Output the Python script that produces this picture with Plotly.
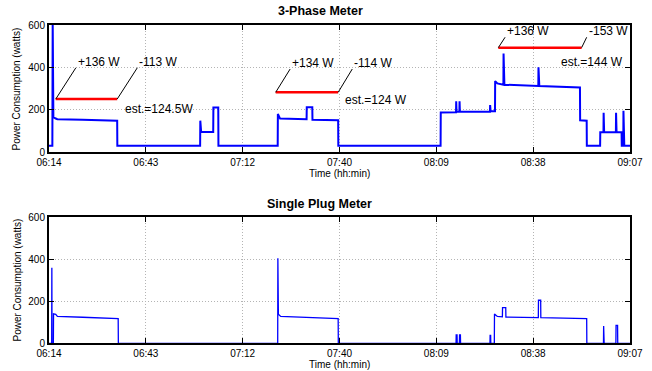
import plotly.graph_objects as go

# ---------------- data (minutes since 06:14) ----------------
tick_labels = ["06:14", "06:43", "07:12", "07:40", "08:09", "08:38", "09:07"]
x_span = 173.0

three_phase_t = [0, 1.0, 1.1, 1.3, 2.0, 2.5, 10, 20.3, 20.35,
                 45.0, 45.05, 45.3, 48.9, 48.95, 50.4, 50.45,
                 68.1, 68.15, 68.8, 76.7, 76.75, 78.4, 78.45, 86.1, 86.15,
                 116.6, 116.65, 121.2, 121.25, 121.35, 122.2, 122.25, 122.35,
                 131.3, 131.35, 131.5, 132.8, 132.85, 133.5, 135.3, 135.35, 135.6,
                 145.7, 145.75, 146.0, 158.1, 158.15, 160.1, 160.15, 164.1, 164.15,
                 165.1, 165.15, 165.3, 168.8, 168.85, 169.0, 170.5, 170.55,
                 171.0, 171.05, 171.3, 173]
three_phase_w = [30, 30, 620, 165, 158, 155, 152, 148, 30,
                 30, 148, 95, 95, 210, 210, 30,
                 30, 180, 158, 155, 212, 212, 152, 150, 30,
                 30, 187, 188, 240, 190, 190, 240, 190,
                 190, 222, 192, 192, 335, 324, 318, 465, 318,
                 312, 400, 312, 305, 150, 148, 30, 30, 93,
                 93, 185, 93, 93, 185, 93, 93, 30,
                 30, 195, 30, 30]

plug_t = [0, 0.8, 0.85, 0.9, 1.3, 1.35, 2.0, 2.5, 10, 20.6, 20.65,
          68.1, 68.15, 68.3, 69, 77, 86.1, 86.15,
          121.2, 121.25, 121.5, 121.55, 122.2, 122.25, 122.5, 122.55,
          131.3, 131.35, 131.5, 131.55, 132.6, 132.65, 133.5, 135.0, 135.05, 136.0, 136.05,
          145.7, 145.75, 146.4, 146.45, 160.1, 160.15,
          165.1, 165.15, 165.3, 168.8, 168.85, 169.3, 169.35, 173]
plug_w = [0, 0, 360, 0, 0, 140, 138, 128, 124, 118, 0,
          0, 405, 138, 128, 124, 118, 0,
          0, 40, 40, 0, 0, 40, 40, 0,
          0, 38, 38, 0, 0, 140, 128, 126, 170, 170, 125,
          122, 205, 205, 122, 118, 0,
          0, 82, 0, 0, 85, 85, 0, 0]

# estimate segments (red)
est_x0 = [2.0, 67.5, 133.8]
est_x1 = [20.3, 86.1, 158.6]
est_y = [250, 282, 493]
# step labels (rise at start, fall at end of each segment)
rise_text = ["+136 W", "+134 W", "+136 W"]
fall_text = ["-113 W", "-114 W", "-153 W"]
rise_lbl_x = [8.0, 71.8, 135.8]
fall_lbl_x = [26.3, 90.3, 160.1]
lbl_y = [398, 392, 542]
est_text = ["est.=124.5W", "est.=124 W", "est.=144 W"]
est_lbl_x = [21.9, 87.5, 151.9]
est_lbl_y = [205, 245, 427]

# ---------------- figure ----------------
FONT = "Liberation Sans, Arial, Helvetica, sans-serif"
W, H = 652, 371
fig = go.Figure()

fig.add_trace(go.Scatter(x=three_phase_t, y=three_phase_w, mode="lines",
                         line=dict(color="#0000ff", width=2), xaxis="x", yaxis="y",
                         showlegend=False, hoverinfo="skip"))
for i in range(len(est_y)):
    fig.add_trace(go.Scatter(x=[est_x0[i], est_x1[i]], y=[est_y[i], est_y[i]], mode="lines",
                             line=dict(color="#ff0000", width=2.5), xaxis="x", yaxis="y",
                             showlegend=False, hoverinfo="skip"))
    fig.add_trace(go.Scatter(x=[est_x0[i], rise_lbl_x[i]], y=[est_y[i], lbl_y[i]], mode="lines",
                             line=dict(color="black", width=1), xaxis="x", yaxis="y",
                             showlegend=False, hoverinfo="skip"))
    fig.add_trace(go.Scatter(x=[est_x1[i], fall_lbl_x[i]], y=[est_y[i], lbl_y[i]], mode="lines",
                             line=dict(color="black", width=1), xaxis="x", yaxis="y",
                             showlegend=False, hoverinfo="skip"))

fig.add_trace(go.Scatter(x=plug_t, y=plug_w, mode="lines",
                         line=dict(color="#0000ff", width=1.3), xaxis="x2", yaxis="y2",
                         showlegend=False, hoverinfo="skip"))

ann = []
for i in range(len(est_y)):
    for tx, xx in ((rise_text[i], rise_lbl_x[i]), (fall_text[i], fall_lbl_x[i])):
        ann.append(dict(x=xx, y=lbl_y[i], xref="x", yref="y", text=tx, showarrow=False,
                        xanchor="left", yanchor="bottom", yshift=-3,
                        font=dict(family=FONT, size=12, color="black")))
    ann.append(dict(x=est_lbl_x[i], y=est_lbl_y[i], xref="x", yref="y", text=est_text[i],
                    showarrow=False, xanchor="left", yanchor="middle",
                    font=dict(family=FONT, size=12, color="black")))

def px(xp):
    return xp / W

def py(yp):
    return 1 - yp / H

titles = [("3-Phase Meter", 320, 11), ("Single Plug Meter", 319, 204)]
for t, xp, yp in titles:
    ann.append(dict(x=px(xp), y=py(yp), xref="paper", yref="paper", text="<b>%s</b>" % t,
                    showarrow=False, xanchor="center", yanchor="middle",
                    font=dict(family=FONT, size=12.5, color="black")))
for yp in (173.5, 364):
    ann.append(dict(x=px(339), y=py(yp), xref="paper", yref="paper", text="Time (hh:min)",
                    showarrow=False, xanchor="center", yanchor="middle",
                    font=dict(family=FONT, size=10, color="black")))
for yp in (89, 280):
    ann.append(dict(x=px(16.5), y=py(yp), xref="paper", yref="paper",
                    text="Power Consumption (watts)", textangle=-90,
                    showarrow=False, xanchor="center", yanchor="middle",
                    font=dict(family=FONT, size=10, color="black")))

tickvals = [i * x_span / 6 for i in range(7)]

GRID = dict(showgrid=True, gridcolor="#b4b4b4", griddash="1px,2px", gridwidth=1)

def xax(domain, anchor):
    return dict(domain=domain, anchor=anchor, range=[0, x_span], tickvals=tickvals,
                ticktext=tick_labels, ticks="inside", ticklen=5, tickwidth=1, tickcolor="black",
                showline=True, linecolor="black", linewidth=2, mirror="ticks",
                zeroline=False, automargin=False, ticklabelstandoff=0,
                tickfont=dict(family=FONT, size=10, color="black"), **GRID)

def yax(domain, anchor):
    return dict(domain=domain, anchor=anchor, range=[0, 600], tickvals=[0, 200, 400, 600],
                ticks="inside", ticklen=5, tickwidth=1, tickcolor="black",
                showline=True, linecolor="black", linewidth=2, mirror="ticks",
                zeroline=False, automargin=False,
                tickfont=dict(family=FONT, size=10, color="black"), **GRID)

xd = [px(49), px(630)]
fig.update_layout(
    width=W, height=H, margin=dict(l=0, r=0, t=0, b=0),
    paper_bgcolor="white", plot_bgcolor="white",
    xaxis=xax(xd, "y"), yaxis=yax([py(152), py(25)], "x"),
    xaxis2=xax(xd, "y2"), yaxis2=yax([py(343.3), py(217.3)], "x2"),
    annotations=ann, font=dict(family=FONT),
)

fig.write_html("out.html")
